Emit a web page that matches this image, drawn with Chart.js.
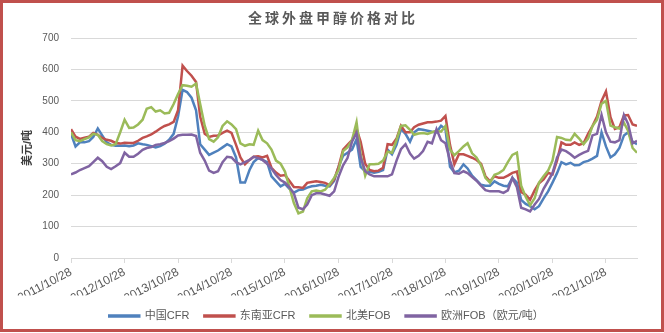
<!DOCTYPE html>
<html>
<head>
<meta charset="utf-8">
<script src="https://cdn.jsdelivr.net/npm/chart.js@4.4.1/dist/chart.umd.min.js"></script>
<style>
  html, body { margin: 0; padding: 0; background: #fff; }
  #wrap { width: 664px; height: 333px; }
</style>
</head>
<body>
<div id="wrap"><canvas id="priceChart" width="664" height="333"></canvas></div>
<script>
// monthly samples starting 2011/10/28
const startDate = "2011/10/28";
const monthCount = 128;

const tickLabels = [
  "2011/10/28", "2012/10/28", "2013/10/28", "2014/10/28", "2015/10/28", "2016/10/28",
  "2017/10/28", "2018/10/28", "2019/10/28", "2020/10/28", "2021/10/28"
];

const seriesNames = ["中国CFR", "东南亚CFR", "北美FOB", "欧洲FOB（欧元/吨）"];

const chinaCFR = [
  395, 355, 368, 368, 372, 385, 412, 390, 368, 360, 357, 357, 358, 356, 358, 365,
  362, 360, 356, 352, 356, 364, 376, 395, 450, 535, 528, 510, 470, 362, 345, 328,
  335, 342, 352, 362, 355, 320, 240, 240, 280, 305, 318, 312, 305, 260, 244, 228,
  236, 220, 208, 216, 218, 224, 228, 230, 233, 230, 228, 245, 290, 325, 335, 345,
  378, 290, 276, 274, 271, 274, 280, 345, 330, 360, 411, 395, 370, 400, 410, 408,
  405, 402, 400, 421, 410, 290, 272, 278, 298, 285, 262, 248, 233, 230, 230, 244,
  236, 230, 228, 255, 240, 185, 172, 165, 155, 165, 190, 212, 240, 270, 305, 298,
  303, 295, 296, 305, 309, 316, 325, 400, 355, 320, 330, 350, 390, 400, 370, 362
];

const seAsiaCFR = [
  410, 386, 379, 383, 386, 398, 392, 382, 376, 373, 366, 364, 367, 366, 366, 373,
  382, 387, 393, 402, 412, 420, 425, 433, 470, 612, 595, 580, 560, 450, 395, 385,
  389, 390, 398, 405, 398, 360, 320, 298, 312, 322, 324, 320, 325, 287, 272, 262,
  264, 245, 226, 225, 223, 239, 242, 244, 242, 239, 232, 250, 290, 345, 360, 375,
  411, 370, 300, 280, 276, 278, 287, 362, 360, 380, 421, 400, 400, 416, 424, 428,
  432, 432, 434, 437, 452, 360, 298, 330, 330, 325, 319, 312, 300, 260, 244, 260,
  255, 255, 262, 271, 275, 210, 201, 185, 215, 238, 250, 271, 266, 310, 368, 360,
  360, 368, 360, 365, 395, 420, 450, 500, 530, 448, 411, 416, 454, 455, 425, 421
];

const usFOB = [
  400, 375, 372, 378, 384, 395, 392, 372, 362, 358, 362, 400, 440, 414, 415, 425,
  440, 475, 480, 466, 470, 460, 462, 490, 522, 550, 548, 545, 555, 490, 421, 378,
  370, 384, 420, 435, 425, 410, 365, 357, 362, 360, 405, 375, 365, 345, 310, 300,
  275, 225, 175, 142, 148, 190, 212, 215, 212, 217, 235, 255, 280, 340, 352, 375,
  432, 330, 262, 298, 298, 300, 310, 338, 335, 375, 420, 422, 408, 392, 396, 398,
  395, 400, 405, 402, 420, 345, 327, 340, 355, 365, 333, 320, 295, 255, 240, 265,
  270, 280, 305, 328, 335, 230, 195, 168, 190, 240, 260, 278, 310, 385, 382, 376,
  375, 395, 380, 362, 380, 420, 440, 491, 500, 421, 416, 412, 430, 405, 350, 335
];

const euFOB = [
  266, 272, 280, 286, 292, 305, 319, 308, 290, 283, 292, 302, 335, 322, 322, 332,
  344, 350, 353, 360, 362, 366, 372, 380, 390, 392, 392, 393, 388, 335, 310, 278,
  271, 276, 305, 322, 320, 305, 298, 305, 312, 322, 318, 312, 300, 285, 264, 248,
  240, 225, 205, 160, 155, 170, 200, 206, 206, 202, 198, 212, 258, 295, 318, 370,
  398, 320, 276, 266, 260, 260, 260, 260, 266, 310, 346, 362, 332, 316, 325, 340,
  370, 365, 410, 375, 365, 310, 270, 268, 276, 270, 258, 246, 230, 216, 212, 212,
  212, 207, 215, 255, 225, 160, 155, 148, 170, 188, 220, 245, 270, 320, 345, 340,
  330, 319, 328, 335, 341, 390, 395, 455, 400, 370, 368, 375, 455, 427, 365, 373
];

const seriesValues = [chinaCFR, seAsiaCFR, usFOB, euFOB];
const seriesColors = ["#4F81BD", "#C0504D", "#9BBB59", "#8064A2"];

// day offsets from the start date
const DAY = 86400000;
const parseDate = (s) => {
  const [y, m, d] = s.split("/").map(Number);
  return Date.UTC(y, m - 1, d);
};
const t0 = parseDate(startDate);
const sampleDays = [];
for (let i = 0; i < monthCount; i++) {
  sampleDays.push(Math.round((Date.UTC(2011, 9 + i, 28) - t0) / DAY));
}
const tickDays = tickLabels.map((s) => Math.round((parseDate(s) - t0) / DAY));
const lastDay = sampleDays[sampleDays.length - 1];

// background, title and red frame
const framePlugin = {
  id: "frame",
  beforeDraw(chart) {
    const ctx = chart.ctx;
    ctx.save();
    ctx.fillStyle = "#fff";
    ctx.fillRect(0, 0, chart.width, chart.height);
    ctx.restore();
  },
  afterDraw(chart) {
    const ctx = chart.ctx;
    ctx.save();
    ctx.font = 'bold 14px "Noto Sans CJK SC", sans-serif';
    ctx.fillStyle = "#595959";
    ctx.textAlign = "center";
    ctx.textBaseline = "middle";
    if ("letterSpacing" in ctx) ctx.letterSpacing = "3px";
    ctx.fillText("全球外盘甲醇价格对比", 333, 18);
    ctx.restore();

    ctx.save();
    ctx.strokeStyle = "#C0504D";
    ctx.lineWidth = 3;
    ctx.strokeRect(1.5, 1.5, 661, 329);
    ctx.restore();
  }
};

Chart.defaults.font.family = '"Liberation Sans", "Noto Sans CJK SC", sans-serif';
Chart.defaults.color = "#595959";

new Chart(document.getElementById("priceChart"), {
  type: "line",
  data: {
    datasets: seriesValues.map((vals, k) => ({
      label: seriesNames[k],
      data: vals.map((v, i) => ({ x: sampleDays[i], y: v })),
      borderColor: seriesColors[k],
      backgroundColor: seriesColors[k],
      borderWidth: 2.5,
      pointRadius: 0,
      tension: 0,
      order: 4 - k
    }))
  },
  options: {
    responsive: false,
    animation: false,
    layout: { padding: { left: 16, right: 27, top: 38, bottom: 1.5 } },
    scales: {
      x: {
        type: "linear",
        min: 0,
        max: lastDay,
        afterBuildTicks: (scale) => {
          scale.ticks = tickDays.map((v) => ({ value: v }));
        },
        afterFit: (scale) => {
          scale.height = 37.5;
        },
        ticks: {
          autoSkip: false,
          minRotation: 28,
          maxRotation: 28,
          padding: 2,
          font: { size: 12 },
          color: "#595959",
          callback: (v) => {
            const i = tickDays.indexOf(v);
            return i >= 0 ? tickLabels[i] : "";
          }
        },
        grid: { drawOnChartArea: false, drawTicks: true, tickLength: 5, color: "#D9D9D9" },
        border: { color: "#D9D9D9" }
      },
      y: {
        min: 0,
        max: 700,
        afterFit: (scale) => {
          scale.width = 55;
        },
        ticks: { stepSize: 100, padding: 12, font: { size: 10 }, color: "#595959" },
        grid: { color: "#D9D9D9", drawTicks: false },
        border: { display: false },
        title: {
          display: true,
          text: "美元/吨",
          color: "#404040",
          font: { size: 11, weight: "bold" },
          padding: { top: 5, bottom: 0 }
        }
      }
    },
    plugins: {
      title: { display: false },
      tooltip: { enabled: false },
      legend: {
        position: "bottom",
        labels: {
          boxWidth: 30,
          boxHeight: 1,
          padding: 15,
          font: { size: 11 },
          color: "#595959",
          sort: (a, b) => a.datasetIndex - b.datasetIndex
        }
      }
    }
  },
  plugins: [framePlugin]
});
</script>
</body>
</html>
